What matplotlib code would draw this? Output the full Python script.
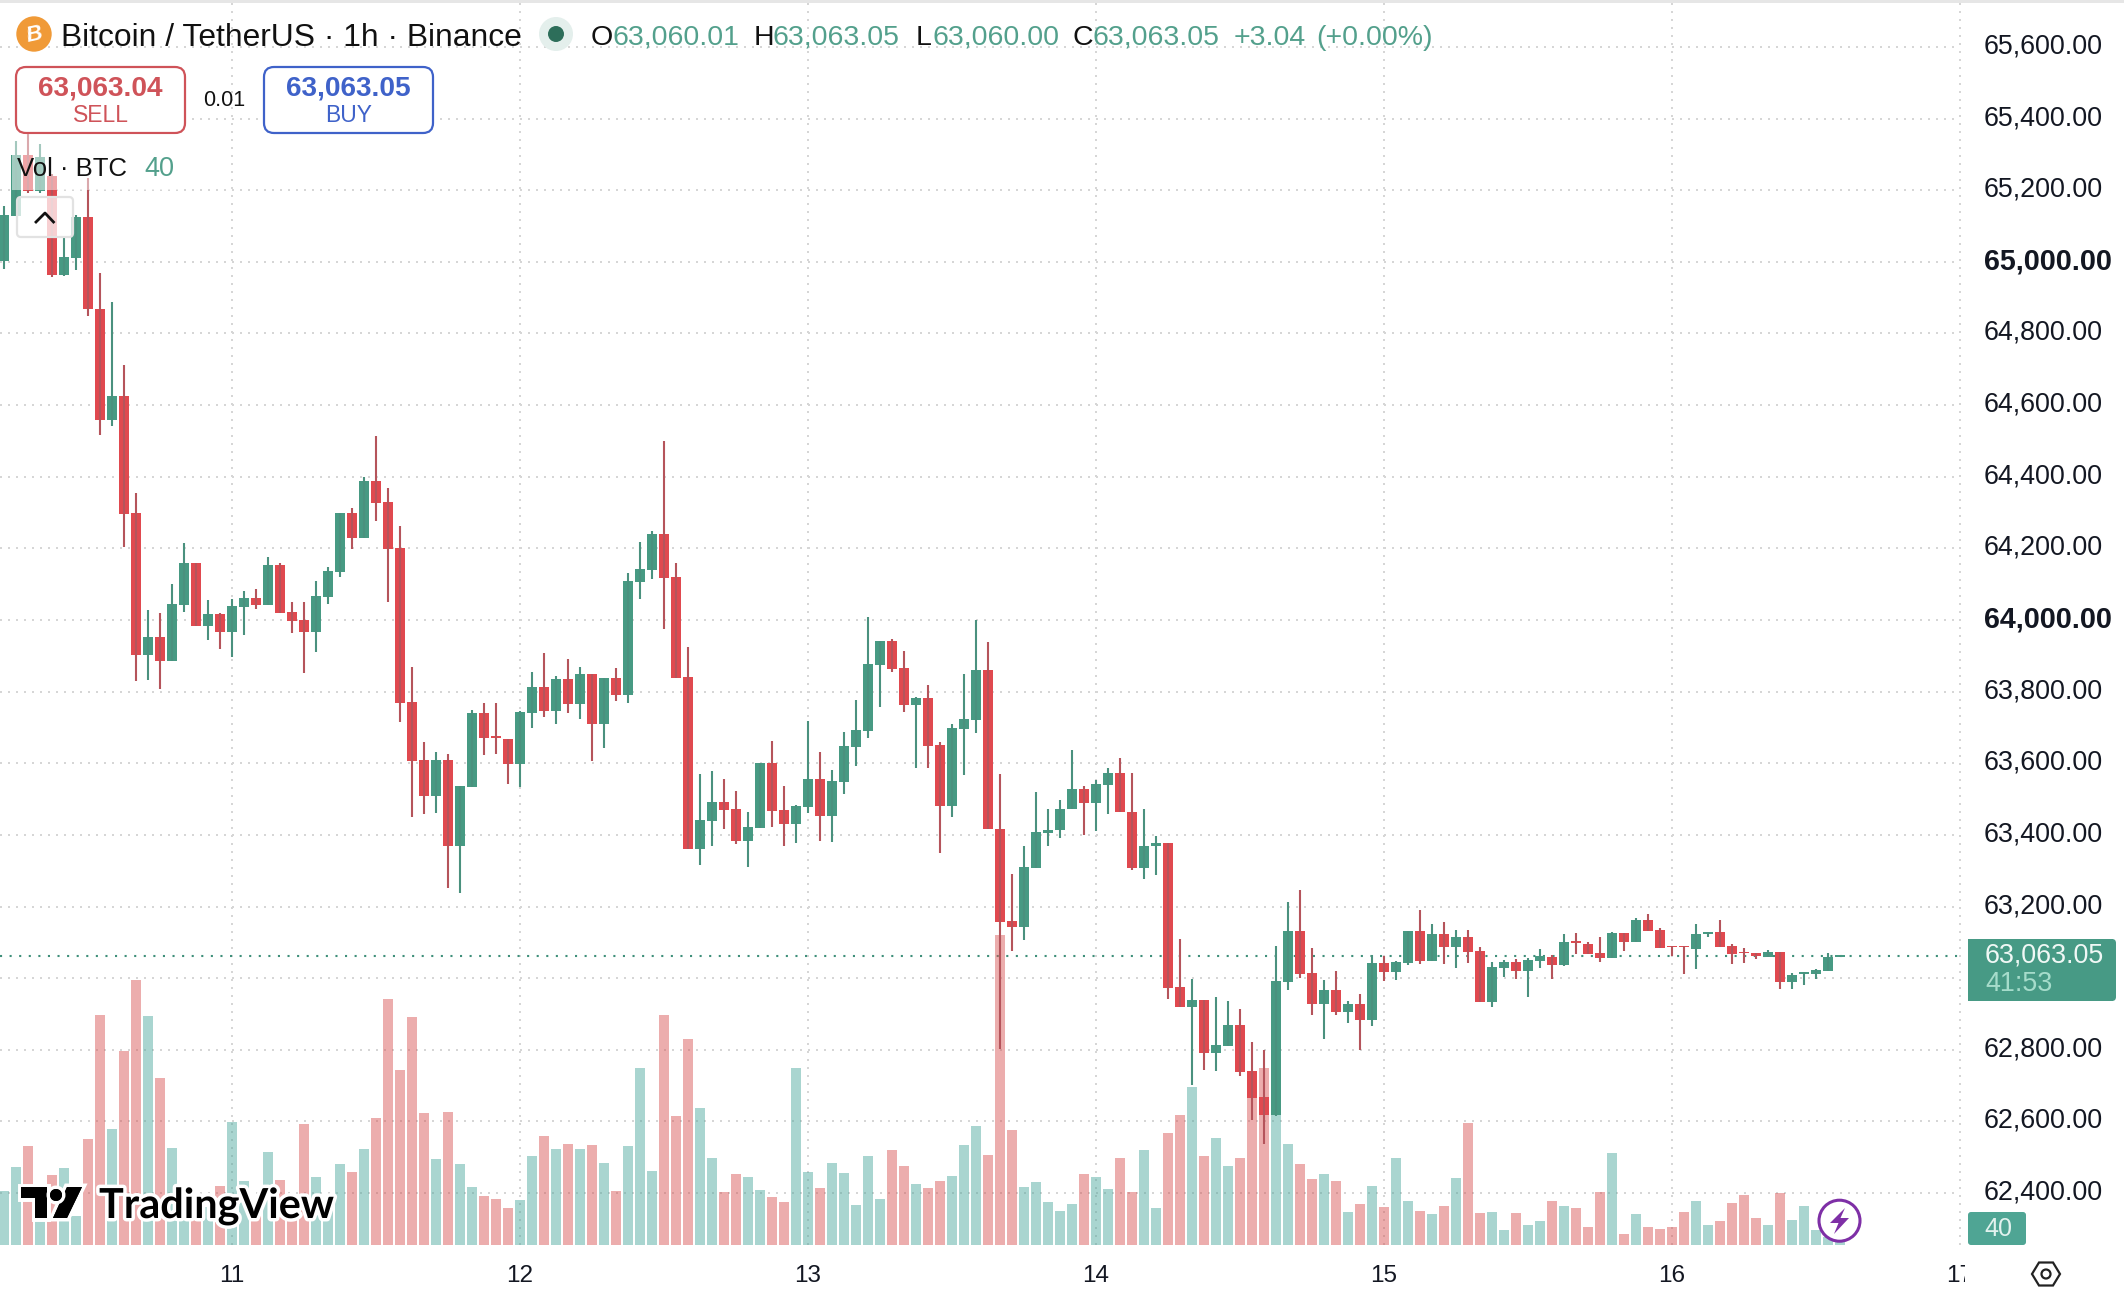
import matplotlib
matplotlib.use('Agg')
import matplotlib.pyplot as plt
import matplotlib.patheffects as pe
from matplotlib.patches import Circle, FancyBboxPatch, Polygon, Rectangle
from matplotlib.transforms import Bbox, ScaledTranslation

plt.rcParams['font.family'] = ['Liberation Sans', 'DejaVu Sans']

# hours counted from the start of day 11
hours = list(range(-19, 135))

opens = [65002, 65129, 65297, 65197, 65241, 64962, 65010, 65124, 64869, 64557, 64624, 64299, 63902, 63953, 63886, 64043, 64159, 63983, 64017,
         63966, 64037, 64061, 64042, 64154, 64022, 63999, 63966, 64065, 64134, 64299, 64229, 64388, 64330, 64201, 63771, 63609, 63508, 63609, 63369, 63534, 63740, 63676, 63668,
         63598, 63740, 63813, 63746, 63834, 63765, 63849, 63710, 63838, 63791, 64106, 64140, 64240, 64120, 63841, 63360, 63439, 63492, 63472, 63383, 63419, 63601, 63469, 63430,
         63478, 63556, 63453, 63548, 63645, 63690, 63874, 63941, 63866, 63763, 63782, 63651, 63480, 63696, 63721, 63860, 63416, 63159, 63143, 63308, 63405, 63414, 63473, 63528,
         63489, 63539, 63573, 63464, 63307, 63370, 63378, 62974, 62920, 62938, 62791, 62810, 62869, 62742, 62668, 62619, 62989, 63133, 63014, 62928, 62967, 62905, 62928, 62883,
         63041, 63017, 63043, 63133, 63049, 63124, 63088, 63116, 63077, 62934, 63029, 63046, 63021, 63049, 63060, 63037, 63104, 63096, 63071, 63057, 63127, 63102, 63161, 63135,
         63090, 63090, 63082, 63122, 63130, 63091, 63074, 63070, 63060, 63074, 62990, 63012, 63012, 63020, 63060.01]
closes = [65131, 65297, 65197, 65292, 64962, 65013, 65125, 64868, 64557, 64624, 64297, 63902, 63953, 63886, 64045, 64159, 63983, 64017, 63966,
          64039, 64061, 64042, 64154, 64020, 63997, 63966, 64067, 64137, 64299, 64229, 64388, 64327, 64198, 63768, 63606, 63508, 63609, 63369, 63536, 63740, 63670, 63671, 63598,
          63743, 63813, 63746, 63834, 63765, 63849, 63710, 63838, 63791, 64109, 64142, 64240, 64117, 63838, 63360, 63441, 63492, 63469, 63383, 63422, 63601, 63467, 63430, 63480,
          63556, 63453, 63550, 63648, 63693, 63877, 63941, 63863, 63763, 63782, 63648, 63480, 63698, 63724, 63860, 63416, 63157, 63143, 63310, 63407, 63415, 63473, 63528, 63489,
          63541, 63573, 63464, 63307, 63370, 63378, 62973, 62920, 62938, 62791, 62813, 62869, 62738, 62665, 62619, 62992, 63133, 63011, 62928, 62967, 62905, 62928, 62883, 63041,
          63017, 63044, 63133, 63048, 63124, 63088, 63115, 63074, 62934, 63032, 63046, 63021, 63051, 63063, 63037, 63102, 63099, 63068, 63057, 63127, 63102, 63161, 63133, 63085,
          63087, 63087, 63124, 63130, 63088, 63068, 63069, 63062, 63074, 62990, 63009, 63016, 63022, 63060, 63063.05]
highs = [65157, 65336, 65400, 65328, 65245, 65069, 65130, 65235, 64970, 64887, 64711, 64354, 64028, 64019, 64101, 64214, 64160, 64056, 64019,
         64058, 64080, 64086, 64175, 64158, 64049, 64049, 64108, 64148, 64299, 64312, 64398, 64514, 64368, 64263, 63869, 63659, 63631, 63625, 63536, 63749, 63768, 63768, 63668,
         63746, 63854, 63907, 63845, 63891, 63868, 63849, 63838, 63866, 64130, 64218, 64249, 64500, 64158, 63924, 63570, 63578, 63556, 63522, 63464, 63601, 63661, 63536, 63483,
         63718, 63631, 63581, 63687, 63777, 64008, 63941, 63947, 63913, 63785, 63818, 63659, 63709, 63849, 64000, 63939, 63570, 63292, 63368, 63520, 63473, 63498, 63638, 63537,
         63553, 63586, 63615, 63573, 63471, 63398, 63378, 63109, 62998, 62938, 62947, 62936, 62913, 62821, 62799, 63089, 63214, 63245, 63085, 62994, 63019, 62936, 62957, 63066,
         63062, 63049, 63133, 63189, 63152, 63158, 63135, 63135, 63087, 63046, 63051, 63053, 63056, 63082, 63064, 63122, 63127, 63102, 63116, 63130, 63127, 63169, 63178, 63141,
         63090, 63090, 63152, 63130, 63161, 63096, 63084, 63071, 63080, 63074, 63015, 63017, 63026, 63070, 63063.05]
lows = [64980, 65129, 65193, 65192, 64957, 64960, 64978, 64849, 64516, 64543, 64205, 63831, 63832, 63808, 63886, 64022, 63983, 63944, 63919,
        63898, 63958, 64032, 64042, 64020, 63965, 63853, 63912, 64046, 64121, 64198, 64229, 64275, 64050, 63715, 63451, 63458, 63461, 63252, 63238, 63534, 63623, 63627, 63542,
        63534, 63698, 63730, 63711, 63740, 63724, 63606, 63642, 63774, 63768, 64059, 64115, 63975, 63838, 63360, 63316, 63369, 63416, 63374, 63310, 63419, 63422, 63369, 63377,
        63461, 63383, 63380, 63514, 63592, 63670, 63757, 63855, 63743, 63587, 63587, 63349, 63450, 63567, 63684, 63416, 62802, 63076, 63106, 63308, 63369, 63392, 63473, 63400,
        63411, 63458, 63464, 63302, 63278, 63288, 62941, 62920, 62701, 62744, 62742, 62810, 62728, 62605, 62537, 62614, 62968, 63000, 62896, 62831, 62898, 62875, 62799, 62867,
        62992, 62995, 63037, 63040, 63049, 63040, 63029, 63043, 62934, 62920, 63004, 62998, 62948, 63029, 62998, 63033, 63068, 63068, 63046, 63057, 63077, 63102, 63133, 63085,
        63063, 63012, 63026, 63116, 63088, 63040, 63043, 63054, 63060, 62970, 62970, 62981, 62998, 63020, 63060.00]
volumes = [810, 1170, 1485, 825, 1050, 1155, 440, 1590, 3450, 1740, 2910, 3975, 3435, 2505, 1455, 625, 575, 575, 885,
           1845, 960, 575, 1395, 975, 575, 1815, 1020, 525, 1215, 1095, 1440, 1905, 3690, 2625, 3420, 1980, 1290, 1995, 1215, 870, 735, 690, 555,
           675, 1335, 1635, 1440, 1515, 1440, 1500, 1230, 810, 1485, 2655, 1110, 3450, 1935, 3090, 2055, 1305, 795, 1065, 1020, 825, 720, 645, 2655,
           1095, 855, 1230, 1080, 600, 1335, 690, 1425, 1185, 915, 855, 960, 1035, 1500, 1785, 1350, 4650, 1725, 870, 945, 645, 510, 615, 1065,
           1020, 840, 1305, 795, 1425, 555, 1680, 1950, 2370, 1335, 1605, 1185, 1305, 2325, 2655, 1950, 1515, 1215, 990, 1065, 960, 495, 615, 885,
           570, 1305, 660, 510, 465, 585, 1005, 1830, 480, 495, 225, 480, 300, 360, 660, 585, 555, 270, 795, 1380, 165, 465, 270, 240,
           270, 495, 660, 300, 360, 630, 750, 405, 300, 780, 375, 585, 225, 125, 40]

day_hours = [0, 24, 48, 72, 96, 120, 144]
day_labels = ['11', '12', '13', '14', '15', '16', '17']
price_ticks = list(range(62400, 65601, 200))
bold_prices = [64000, 65000]
hidden_prices = [63000]  # this label sits behind the last price box
last_price = 63063.05

GREEN = '#479a83'
RED = '#e0494f'
GREEN_WICK = '#4a917e'
RED_WICK = '#b5545b'
VOL_GREEN = '#4aa79c'
VOL_RED = '#d75151'
TEXT_GREEN = '#53a08c'
DARK = '#131722'

W, H = 2124, 1302
fig = plt.figure(figsize=(W / 100, H / 100), dpi=100, facecolor='white')
pos = [0, (H - 1245) / H, 1960 / W, 1245 / H]
xlim = (-232 / 12, (1960 - 232) / 12)
ylim = (62255, 65731)

# grid and axis labels
ax = fig.add_axes(pos, zorder=1)
ax.set_xlim(xlim)
ax.set_ylim(ylim)
for s in ax.spines.values():
    s.set_visible(False)
ax.set_yticks(price_ticks)
ax.set_yticklabels(['' if p in hidden_prices else f'{p:,.2f}' for p in price_ticks], fontsize=19.4, color=DARK)
ax.yaxis.tick_right()
ax.tick_params(axis='y', length=0, pad=17.3)
ax.set_xticks(day_hours)
ax.set_xticklabels(day_labels, fontsize=17.5, color=DARK)
ax.tick_params(axis='x', length=0, pad=14.5)
ax.grid(True, color='#d6d6d6', linewidth=1.44, linestyle=(0, (1, 3)))
for line in ax.get_xgridlines():
    line.set_clip_on(False)
up = ScaledTranslation(0, 2.5 / 72, fig.dpi_scale_trans)
for p, lab in zip(price_ticks, ax.get_yticklabels()):
    lab.set_transform(lab.get_transform() + up)
    if p in bold_prices:
        lab.set_fontweight('bold')
        lab.set_fontsize(20.7)
last_lab = ax.get_xticklabels()[-1]
last_lab.set_clip_on(True)
last_lab.set_clip_box(Bbox([[0, 0], [1965, H]]))
ax.axhline(last_price, color='#3f8f7a', linewidth=1.5, linestyle=(0, (1, 3.6)))

# volume bars under the candles
ax_vol = fig.add_axes(pos, zorder=2)
ax_vol.patch.set_alpha(0)
ax_vol.axis('off')
ax_vol.set_xlim(xlim)
ax_vol.set_ylim(0, 1245 * 15)
vol_colors = [VOL_GREEN if c >= o else VOL_RED for o, c in zip(opens, closes)]
ax_vol.bar(hours, volumes, width=0.83, color=vol_colors, alpha=0.47, linewidth=0)

# candles
ax_c = fig.add_axes(pos, zorder=3)
ax_c.patch.set_alpha(0)
ax_c.axis('off')
ax_c.set_xlim(xlim)
ax_c.set_ylim(ylim)
wick_colors = [GREEN_WICK if c >= o else RED_WICK for o, c in zip(opens, closes)]
body_colors = [GREEN if c >= o else RED for o, c in zip(opens, closes)]
ax_c.vlines(hours, lows, highs, colors=wick_colors, linewidth=1.5)
bottoms = [min(o, c) for o, c in zip(opens, closes)]
heights = [max(abs(c - o), 4) for o, c in zip(opens, closes)]
ax_c.bar(hours, heights, bottom=bottoms, width=0.83, color=body_colors, linewidth=0)

# interface elements, in pixel coordinates
ui = fig.add_axes([0, 0, 1, 1], zorder=4)
ui.patch.set_alpha(0)
ui.axis('off')
ui.set_xlim(0, W)
ui.set_ylim(H, 0)

ui.add_patch(Rectangle((0, 0), W, 2.5, color='#e6e6e6', linewidth=0))

# header
ui.add_patch(Circle((34, 34), 17.7, color='#f09a37', linewidth=0))
ui.text(34, 35, 'B', color='white', fontsize=16, fontweight='bold', style='italic', ha='center', va='center', rotation=12)
ui.text(61, 37.5, 'Bitcoin / TetherUS · 1h · Binance', fontsize=22.9, color='#111111', ha='left', va='center')
ui.add_patch(Circle((556, 34), 17, color='#e4efec', linewidth=0))
ui.add_patch(Circle((556, 34), 8, color='#2d6e5a', linewidth=0))
for x, s in [(591, 'O'), (754, 'H'), (916, 'L'), (1073, 'C')]:
    ui.text(x, 38, s, fontsize=20.5, color='#111111', ha='left', va='center')
for x, s in [(612, '63,060.01'), (773, '63,063.05'), (933, '63,060.00'), (1092, '63,063.05'), (1234, '+3.04'), (1316, '(+0.00%)')]:
    ui.text(x, 38, s, fontsize=20.5, color=TEXT_GREEN, ha='left', va='center')

# sell and buy boxes
for x0, col, price, word in [(16, '#cf5359', '63,063.04', 'SELL'), (264, '#3f62c9', '63,063.05', 'BUY')]:
    ui.add_patch(FancyBboxPatch((x0 + 8, 75), 153, 50, boxstyle='round,pad=8,rounding_size=10',
                                facecolor='white', edgecolor=col, linewidth=1.6))
    ui.text(x0 + 84.5, 88.5, price, fontsize=20.2, fontweight='bold', color=col, ha='center', va='center')
    ui.text(x0 + 84.5, 115.5, word, fontsize=16.5, color=col, ha='center', va='center')
ui.text(224, 101, '0.01', fontsize=15.5, color='#111111', ha='center', va='center')

# volume legend and collapse button
ui.add_patch(Rectangle((12, 134), 166, 56, facecolor='white', alpha=0.5, linewidth=0))
ui.text(17, 168.5, 'Vol · BTC', fontsize=18.5, color='#111111', ha='left', va='center')
ui.text(144, 168.5, '40', fontsize=19.5, color=TEXT_GREEN, ha='left', va='center')
ui.add_patch(FancyBboxPatch((21, 201), 48, 32, boxstyle='round,pad=4,rounding_size=4',
                            facecolor=(1, 1, 1, 0.75), edgecolor='#e2e2e2', linewidth=1.6))
ui.plot([36, 45, 53.5], [222, 213, 222], color='#111111', linewidth=2)

# price label on the axis
ui.add_patch(Rectangle((1968, 939), 145, 62, color='#479a85', linewidth=0))
ui.add_patch(FancyBboxPatch((2105, 943), 7, 54, boxstyle='round,pad=4,rounding_size=4', color='#479a85', linewidth=0))
ui.text(1985, 955.5, '63,063.05', fontsize=19.4, color='#f0f8f5', ha='left', va='center')
ui.text(1985, 984, '41:53', fontsize=19.4, color='#a6dccb', ha='left', va='center')

# volume label on the axis
ui.add_patch(FancyBboxPatch((1968, 1212), 58, 33, boxstyle='round,pad=0,rounding_size=3', color='#4fa594', linewidth=0))
ui.text(1998, 1229, '40', fontsize=18, color='#e2f2ee', ha='center', va='center')

# settings icon
ui.add_patch(Polygon([(2032, 1274), (2039, 1262.5), (2053, 1262.5), (2060, 1274), (2053, 1285.5), (2039, 1285.5)],
                     closed=True, facecolor='white', edgecolor='#222222', linewidth=1.6))
ui.add_patch(Circle((2046, 1274), 4.5, facecolor='white', edgecolor='#222222', linewidth=1.6))

# lightning button
ui.add_patch(Circle((1839.5, 1220.7), 20.5, facecolor='white', edgecolor='#7e2fa6', linewidth=2.2))
ui.add_patch(Polygon([(1845, 1208), (1830, 1223), (1838.5, 1223), (1834, 1234), (1849, 1218), (1840.5, 1218)],
                     closed=True, color='#7e2fa6', linewidth=0))

# TradingView logo with its white outline
outline = [pe.withStroke(linewidth=5, foreground='white')]
logo_shapes = [
    [(21, 1187), (47, 1187), (47, 1218), (35, 1218), (35, 1198), (21, 1198)],
    [(67, 1187), (82, 1187), (67, 1218), (53, 1218)],
]
for pts in logo_shapes:
    p = Polygon(pts, closed=True, color='black', linewidth=0, zorder=5)
    p.set_path_effects(outline + [pe.Normal()])
    ui.add_patch(p)
dot = Circle((56, 1195), 6, color='black', linewidth=0, zorder=5)
dot.set_path_effects(outline + [pe.Normal()])
ui.add_patch(dot)
ui.text(99, 1218, 'TradingView', fontsize=29.8, fontweight='bold', color='black', family='Lato', ha='left',
        va='baseline', zorder=5, path_effects=outline)

assert len({len(hours), len(opens), len(closes), len(highs), len(lows), len(volumes)}) == 1

plt.savefig('out.png', dpi=100)
